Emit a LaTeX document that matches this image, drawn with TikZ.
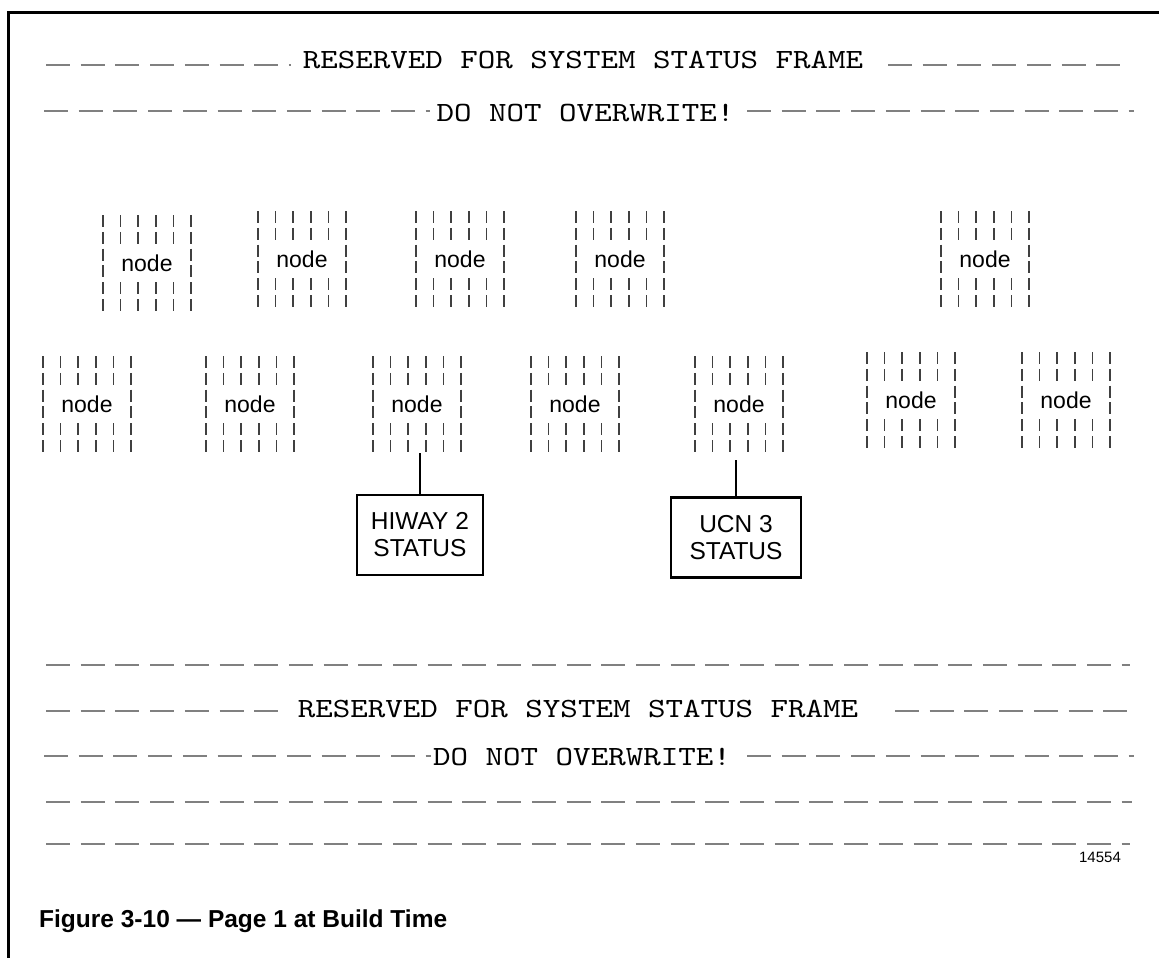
\documentclass[tikz,border=0pt]{standalone}
\usepackage{fontspec}
\setmainfont{Liberation Sans}
\newfontfamily\framefont[FakeStretch=1.2]{lmmono10-regular.otf}
\usepackage{tikz}

\begin{document}
\begin{tikzpicture}[x=1pt, y=-1pt,
  rule/.style={draw=black!50, line width=2.6pt, dash pattern=on 24pt off 10.7pt},
  frametext/.style={anchor=base, inner sep=0pt, font=\framefont\fontsize{27.8}{30}\selectfont},
  cluster/.style={minimum width=92pt, minimum height=97pt, inner sep=0pt, font=\fontsize{23}{25}\selectfont},
  tick/.style={black!75, line width=1.8pt},
  status/.style={draw, line width=2.4pt, minimum width=126pt, minimum height=80pt, align=center, inner sep=0pt, font=\fontsize{24.5}{27}\selectfont},
  link/.style={line width=2.4pt}]
\useasboundingbox (0,0) rectangle (1159,958);
\draw[line width=3pt] (8.5,958) -- (8.5,12.5) -- (1159,12.5);

\node[frametext] (res1) at (583,68) {RESERVED FOR SYSTEM STATUS FRAME};
\node[frametext] (dnw1) at (585.5,121) {DO NOT OVERWRITE!};
\draw[rule] (46,65) -- (291,65);
\draw[rule] (888,65) -- (1121,65);
\draw[rule] (44,111) -- (430,111);
\draw[rule] (747,111) -- (1134,111);

\node[cluster] (a1) at (147,263) {node};
\node[cluster] (a2) at (302,259) {node};
\node[cluster] (a3) at (460,259) {node};
\node[cluster] (a4) at (620,259) {node};
\node[cluster] (a5) at (985,259) {node};
\node[cluster] (b1) at (87,404) {node};
\node[cluster] (b2) at (250,404) {node};
\node[cluster] (b3) at (417,404) {node};
\node[cluster] (b4) at (575,404) {node};
\node[cluster] (b5) at (739,404) {node};
\node[cluster] (b6) at (911,400) {node};
\node[cluster] (b7) at (1066,400) {node};
\foreach \n in {a1,a2,a3,a4,a5,b1,b2,b3,b4,b5,b6,b7} {
  \foreach \c in {-2.5,-1.5,...,2.5}
    \foreach \r in {-2.5,-1.5,1.5,2.5}
      \draw[tick] ([shift={(\c*17.7,\r*16.8-6)}]\n.center) -- ++(0,12);
  \foreach \c in {-2.5,2.5}
    \foreach \r in {-0.5,0.5}
      \draw[tick] ([shift={(\c*17.7,\r*16.8-6)}]\n.center) -- ++(0,12);
}

\node[status] (hiway) at (420,535) {HIWAY 2\\STATUS};
\node[status, minimum width=130pt] (ucn) at (736,537.5) {UCN 3\\STATUS};
\draw[link] (hiway.north) -- (hiway.north |- b3.south);
\draw[link, shorten >=7pt] (ucn.north) -- (ucn.north |- b5.south);

\draw[rule] (46,665) -- (1130,665);
\node[frametext] (res2) at (578,717) {RESERVED FOR SYSTEM STATUS FRAME};
\draw[rule] (46,711) -- (278,711);
\draw[rule] (895,711) -- (1127,711);
\node[frametext] (dnw2) at (582,765.5) {DO NOT OVERWRITE!};
\draw[rule] (44,756) -- (431,756);
\draw[rule] (747,756) -- (1134,756);
\draw[rule] (46,802) -- (1132,802);
\draw[rule] (46,844) -- (1130,844);
\node[font=\fontsize{15}{17}\selectfont] (fignum) at (1100,857) {14554};

\node[anchor=base west, inner sep=0pt, font=\bfseries\fontsize{24.5}{27}\selectfont] (caption) at (39,927) {Figure 3-10 — Page 1 at Build Time};
\end{tikzpicture}
\end{document}
